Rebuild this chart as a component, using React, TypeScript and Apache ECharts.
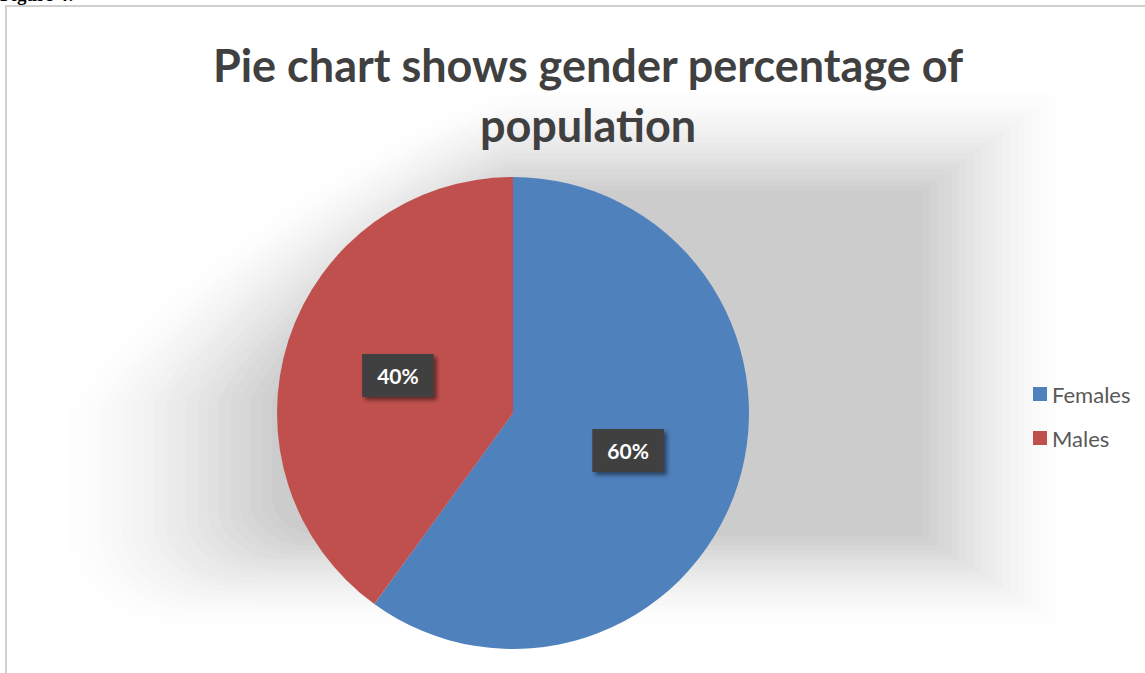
import React, { useEffect, useRef } from "react";
import * as echarts from "echarts";

const categories = ["Females", "Males"];
const values = [60, 40];
const colors = ["#4F81BD", "#C0504D"];
const titleLines = ["Pie chart shows gender percentage of", "population"];

function outline(b: number[]) {
  const [x0, y0, x1, y1, tRx, tRy, bRx, bRy] = b;
  const pts: number[][] = [];
  pts.push([x0 + tRx, y0], [x1, y0], [x1, y1], [x0 + bRx, y1]);
  const steps = 16;
  for (let k = 0; k <= steps; k++) {
    const a = (Math.PI / 2) * (k / steps);
    pts.push([x0 + bRx - bRx * Math.sin(a), y1 - bRy + bRy * Math.cos(a)]);
  }
  const p = 1.6;
  for (let k = 0; k <= steps; k++) {
    const a = (Math.PI / 2) * (k / steps);
    pts.push([x0 + tRx - tRx * Math.pow(Math.cos(a), p), y0 + tRy - tRy * Math.pow(Math.sin(a), p)]);
  }
  return pts;
}

function shadowLayers() {
  const outer = [68, 90, 1062, 624, 445, 320, 110, 80];
  const inner = [272, 190, 922, 536, 240, 210, 50, 40];
  const n = 20;
  const out: any[] = [];
  for (let i = 0; i < n; i++) {
    const t = i / (n - 1);
    const b = outer.map((v, j) => v + (inner[j] - v) * t);
    const g = Math.round(254 - (254 - 204) * Math.pow(t, 1.4));
    out.push({
      type: "polygon",
      z: -10,
      silent: true,
      shape: { points: outline(b) },
      style: { fill: `rgb(${g},${g},${g})` },
    });
  }
  return out;
}

export default function App() {
  const ref = useRef<HTMLDivElement>(null);
  useEffect(() => {
    document.body.style.margin = "0";
    const chart = echarts.init(ref.current!, null, { renderer: "svg" });
    chart.setOption({
      animation: false,
      backgroundColor: "#ffffff",
      title: {
        text: titleLines.join("\n"),
        left: 583,
        textAlign: "center",
        top: 30,
        textStyle: {
          fontFamily: "Lato",
          fontWeight: "bold",
          fontSize: 45,
          lineHeight: 60,
          color: "#404040",
        },
      },
      legend: {
        orient: "vertical",
        left: 1033,
        top: 383,
        padding: 0,
        itemWidth: 14,
        itemHeight: 14,
        itemGap: 22,
        icon: "rect",
        textStyle: { fontFamily: "Lato", fontSize: 22, color: "#595959" },
        data: categories,
      },
      graphic: [
        ...shadowLayers(),
        {
          type: "rect",
          z: 10,
          shape: { x: 6, y: 6, width: 1200, height: 720 },
          style: { fill: "none", stroke: "#d0d0d0", lineWidth: 2 },
        },
        {
          type: "text",
          z: 10,
          x: 0,
          y: -15,
          style: { text: "Figure 4:", font: "bold 19px 'Liberation Serif', serif", fill: "#000" },
        },
      ],
      series: [
        {
          type: "pie",
          center: [513, 413],
          radius: [0, 236],
          startAngle: 90,
          clockwise: true,
          itemStyle: { borderWidth: 0 },
          label: {
            show: true,
            position: "inside",
            formatter: "{d}%",
            fontFamily: "Lato",
            fontWeight: "bold",
            fontSize: 21,
            color: "#ffffff",
            backgroundColor: "#404040",
            padding: [11, 15, 11, 15],
            shadowColor: "rgba(0,0,0,0.5)",
            shadowBlur: 4,
            shadowOffsetX: 3,
            shadowOffsetY: 3,
          },
          labelLine: { show: false },
          data: categories.map((c, i) => ({ name: c, value: values[i], itemStyle: { color: colors[i] } })),
        },
      ],
    });
    return () => chart.dispose();
  }, []);
  return <div ref={ref} style={{ position: "fixed", left: 0, top: 0, width: 1145, height: 673 }} />;
}
